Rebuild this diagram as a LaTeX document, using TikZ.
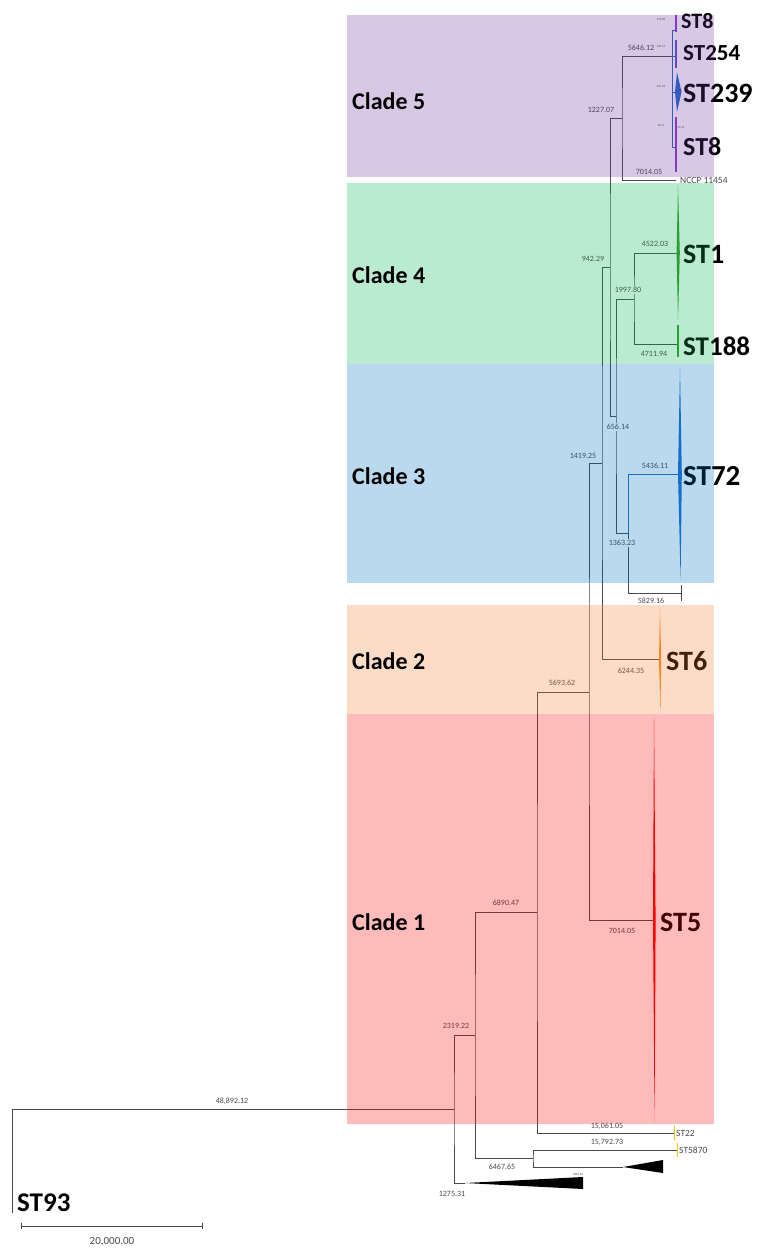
\documentclass[tikz,border=0pt]{standalone}
\usepackage{fontspec}
\setmainfont{Carlito}
\usetikzlibrary{positioning, calc}
\definecolor{cladepurple}{HTML}{7030A0}
\definecolor{cladegreen}{HTML}{00B050}
\definecolor{cladeblue}{HTML}{0070C0}
\definecolor{cladeorange}{HTML}{ED7D31}
\definecolor{cladered}{HTML}{FF0000}
\definecolor{branchgray}{HTML}{4A4A4A}
\definecolor{tipgreen}{HTML}{3A9A2A}
\definecolor{tipblue}{HTML}{1A6FD0}
\definecolor{tiporange}{HTML}{FF8A1E}
\definecolor{tippurple}{HTML}{8A3FD0}
\definecolor{tipyellow}{HTML}{F2C500}

\begin{document}
\begin{tikzpicture}[x=1pt, y=-1pt,
  branch/.style={draw=branchgray, line width=0.7pt},
  blen/.style={font=\fontsize{8}{9}\selectfont, text=branchgray, fill=white, inner sep=1pt},
  tinylen/.style={font=\fontsize{3}{3}\selectfont, text=branchgray, inner sep=0pt},
  sttip/.style={font=\bfseries\fontsize{28}{30}\selectfont, anchor=west, inner sep=0pt},
  smalltip/.style={font=\fontsize{9.5}{10}\selectfont, text=branchgray, anchor=west, inner sep=0pt},
  cladebox/.style={fill opacity=0.27},
  cladelbl/.style={font=\bfseries\fontsize{24}{26}\selectfont, anchor=west, inner sep=0pt}]

  \useasboundingbox (0,0) rectangle (772,1260);

  \coordinate (st93) at (12,1213);
  \coordinate (nA) at (454,1109);
  \coordinate (nB) at (475,1035);
  \coordinate (tri1) at (465,1183);
  \coordinate (nC) at (533,1158);
  \coordinate (nD) at (537,912);
  \coordinate (st5870) at (677,1150);
  \coordinate (tri2) at (623,1167);
  \coordinate (nE) at (589,692);
  \coordinate (st22) at (674,1133);
  \coordinate (nF) at (602,463);
  \coordinate (st5) at (654,920);
  \coordinate (nG) at (610,267);
  \coordinate (st6) at (660,659);
  \coordinate (nK) at (622,118);
  \coordinate (nH) at (616,416);
  \coordinate (nM) at (672,56);
  \coordinate (nccp) at (676,180);
  \coordinate (nI) at (634,299);
  \coordinate (nJ) at (628,533);
  \coordinate (st1) at (678,253);
  \coordinate (st188) at (678,344);
  \coordinate (st72) at (680,474);
  \coordinate (st72b) at (681,593);
  \coordinate (st8a) at (676,30);
  \coordinate (st254) at (676,56);
  \coordinate (st239) at (676,92);
  \coordinate (st8b) at (676,147);

  \draw[branch] (nA) -| (st93);
  \draw[branch] (nB) -| (nA) |- (tri1);
  \draw[branch] (nD) -| (nB) |- (nC);
  \draw[branch] (st5870) -| (nC) |- (tri2);
  \draw[branch] (nE) -| (nD) |- (st22);
  \draw[branch] (nF) -| (nE) |- (st5);
  \draw[branch] (nG) -| (nF) |- (st6);
  \draw[branch] (nK) -| (nG) |- (nH);
  \draw[branch] (nM) -| (nK) |- (nccp);
  \draw[branch] (nI) -| (nH) |- (nJ);
  \draw[branch] (st1) -| (nI) |- (st188);
  \draw[branch] (nJ) |- (st72b);
  \draw[draw=tipblue, line width=0.7pt] (st72) -| (nJ);
  \draw[draw=tipblue, line width=0.7pt] (st8a) -| (nM) |- (st8b);
  \draw[draw=tipblue, line width=0.7pt] (nM) -- (st254);
  \draw[draw=tipblue, line width=0.7pt] (nM |- st239) -- (st239);
  \draw[branch] ([yshift=-8]st72b) -- ([yshift=8]st72b);

  \fill[black] (tri1) -- (583,1177) -- (583,1189) -- cycle;
  \fill[black] (tri2) -- (663,1160) -- (663,1173) -- cycle;

  \fill[tippurple] (675.4,15) rectangle (676.6,32);
  \fill[tippurple!60!tipblue] (675.4,40) rectangle (676.6,68);
  \fill[tipblue] (677,72) -- (681.5,92) -- (677,112) -- (675,92) -- cycle;
  \fill[tippurple] (675.4,117) rectangle (676.6,172);
  \fill[tipgreen] (678,185) -- (679.8,253) -- (678,320) -- (676.6,253) -- cycle;
  \fill[tipgreen] (677.4,325) rectangle (678.6,357);
  \fill[tipblue] (680,368) -- (681.8,474) -- (680.6,580) -- (678,474) -- cycle;
  \fill[tiporange] (660,608) -- (661.2,659) -- (660.4,713) -- (659,659) -- cycle;
  \fill[cladered] (654,717) -- (655.6,920) -- (654.6,1122) -- (653,920) -- cycle;
  \fill[tipyellow] (673.8,1126) rectangle (675,1140);
  \fill[tipyellow] (676.6,1143) rectangle (677.8,1157);

  \node[blen] (l48892) at (232,1101) {48,892.12};
  \node[blen] (l2319) at (456,1026) {2319.22};
  \node[blen] (l1275) at (452,1194) {1275.31};
  \node[blen] (l6890) at (506,903) {6890.47};
  \node[blen] (l6467) at (502,1167) {6467.65};
  \node[blen] (l15792) at (607,1142) {15,792.73};
  \node[blen] (l15061) at (607,1126) {15,061.05};
  \node[blen] (l5693) at (562,683) {5693.62};
  \node[blen] (l7014b) at (622,931) {7014.05};
  \node[blen] (l1419) at (583,456) {1419.25};
  \node[blen] (l6244) at (631,671) {6244.35};
  \node[blen] (l942) at (593,259) {942.29};
  \node[blen] (l1227) at (601,110) {1227.07};
  \node[blen] (l5646) at (641,48) {5646.12};
  \node[blen] (l7014a) at (649,172) {7014.05};
  \node[blen] (l656) at (618,427) {656.14};
  \node[blen] (l1997) at (628,290) {1997.80};
  \node[blen] (l4522) at (655,244) {4522.03};
  \node[blen] (l4711) at (654,354) {4711.94};
  \node[blen] (l1363) at (622,543) {1363.23};
  \node[blen] (l5436) at (655,466) {5436.11};
  \node[blen] (l5829) at (651,601) {5829.16};
  \node[tinylen] (l9863) at (578,1174) {9863.36};
  \node[tinylen] (l379) at (661,20) {379.09};
  \node[tinylen] (l330) at (661,47) {330.91};
  \node[tinylen] (l491) at (661,87) {491.56};
  \node[tinylen] (l48) at (661,125) {48.17};
  \node[tinylen] (l1964) at (679,91) {1964};
  \node[tinylen] (l99) at (681,128) {99.14};

  \node[sttip, font=\bfseries\fontsize{22}{24}\selectfont] (tST8a) at (681,21) {ST8};
  \node[sttip, font=\bfseries\fontsize{23}{25}\selectfont] (tST254) at (683,53) {ST254};
  \node[sttip] (tST239) at (683,93) {ST239};
  \node[sttip, font=\bfseries\fontsize{26}{28}\selectfont] (tST8b) at (683,147) {ST8};
  \node[smalltip] (tNCCP) at (680,180) {NCCP 11454};
  \node[sttip] (tST1) at (683,254) {ST1};
  \node[sttip, font=\bfseries\fontsize{27}{29}\selectfont] (tST188) at (683,346) {ST188};
  \node[sttip, font=\bfseries\fontsize{29}{31}\selectfont] (tST72) at (683,476) {ST72};
  \node[sttip] (tST6) at (666,661) {ST6};
  \node[sttip] (tST5) at (660,922) {ST5};
  \node[smalltip] (tST22) at (676,1133) {ST22};
  \node[smalltip] (tST5870) at (679,1150) {ST5870};
  \node[sttip, font=\bfseries\fontsize{27}{29}\selectfont] (tST93) at (17,1203) {ST93};

  \fill[cladepurple, cladebox] (347,15) rectangle (714,177);
  \fill[cladegreen, cladebox] (347,183) rectangle (714,364);
  \fill[cladeblue, cladebox] (347,364) rectangle (714,583);
  \fill[cladeorange, cladebox] (347,605) rectangle (714,714);
  \fill[cladered, cladebox] (347,714) rectangle (714,1124);

  \node[cladelbl] (c5) at (352,101) {Clade 5};
  \node[cladelbl] (c4) at (352,275) {Clade 4};
  \node[cladelbl] (c3) at (352,476) {Clade 3};
  \node[cladelbl] (c2) at (352,661) {Clade 2};
  \node[cladelbl] (c1) at (352,922) {Clade 1};

  \coordinate (sbl) at (21,1226);
  \coordinate (sbr) at (203,1226);
  \draw[branch, |-|] (sbl) -- (sbr);
  \node[font=\fontsize{11}{12}\selectfont, text=branchgray, below=8pt of $(sbl)!0.5!(sbr)$] (sblabel) {20,000.00};
\end{tikzpicture}
\end{document}
